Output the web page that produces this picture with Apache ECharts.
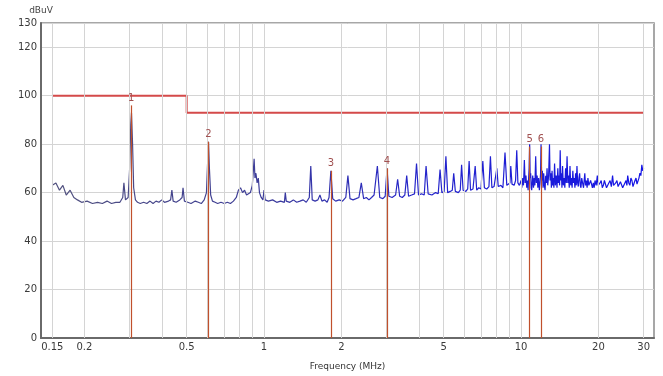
<!DOCTYPE html>
<html>
<head>
<meta charset="utf-8">
<script src="https://cdn.jsdelivr.net/npm/echarts@6/dist/echarts.min.js"></script>
<style>
  html, body { margin: 0; padding: 0; background: #ffffff; }
  #chart { width: 663px; height: 376px; }
</style>
</head>
<body>
<div id="chart"></div>
<script>
// ---- data ----
// x tick labels (MHz)
const xTickLabels = [0.15, 0.2, 0.5, 1, 2, 5, 10, 20, 30];
// vertical grid lines (MHz)
const xGridFreqs = [0.15, 0.2, 0.3, 0.4, 0.5, 0.6, 0.7, 0.8, 0.9, 1, 2, 3, 4, 5, 6, 7, 8, 9, 10, 20, 30];
// y tick values (dBuV)
const yTicks = [0, 20, 40, 60, 80, 100, 120, 130];

// limit line [MHz, dBuV]
const limitLine = [[0.15, 100], [0.5, 100], [0.5, 93], [30, 93]];

// markers
const markerNames = ['1', '2', '3', '4', '5', '6'];
const markerFreqs = [0.304, 0.608, 1.82, 3.01, 10.8, 11.96];
const markerLevels = [96, 81, 69, 70, 79, 79];

// measured trace [MHz, dBuV]
const traceLow = [
  [0.150,63],[0.155,64],[0.160,61],[0.165,63],[0.170,59],[0.176,61],[0.182,58],[0.188,57],[0.195,56],[0.205,56.5],
  [0.215,55.5],[0.225,56],[0.235,55.5],[0.245,56.5],[0.255,55.5],[0.265,56],[0.275,56],[0.282,58],[0.285,64],[0.289,57],
  [0.296,58],[0.300,70],[0.303,88],[0.305,93],[0.308,80],[0.311,62],[0.316,57],[0.322,56],[0.330,55.5],[0.340,56],
  [0.350,55.5],[0.360,56.5],[0.370,55.5],[0.380,56.5],[0.390,56],[0.400,57],[0.410,56],[0.425,56.5],[0.433,57],[0.438,61],
  [0.443,56.5],[0.455,56],[0.470,57],[0.480,58],[0.484,62],[0.490,56.5],[0.505,56],[0.520,55.5],[0.540,56.5],[0.555,56],
  [0.570,55.5],[0.585,57],[0.597,60],[0.603,72],[0.608,81],[0.613,70],[0.620,59],[0.630,56.5],[0.645,56],[0.660,55.5],
  [0.680,56],[0.700,55.5],[0.720,56],[0.740,55.5],[0.760,56.5],[0.780,58],[0.795,61],[0.810,62],[0.825,60],[0.840,61],
  [0.855,59],[0.870,58.5],[0.885,60],[0.900,63],[0.910,70],[0.915,74],[0.922,66],[0.930,68],[0.940,64],[0.950,66],
  [0.960,60],[0.975,58],[0.990,57]
];
const traceMid = [
  [1.000,61],[1.010,57],[1.040,56.5],[1.080,57],[1.120,56],[1.160,56.5],[1.200,56],[1.210,60],[1.220,56.5],[1.260,56],
  [1.300,57],[1.340,56],[1.380,56.5],[1.420,57],[1.460,56],[1.500,58],[1.520,71],[1.540,57],[1.580,56.5],[1.620,57],
  [1.650,59],[1.680,56.5],[1.720,57],[1.760,56],[1.790,58],[1.820,69],[1.850,57.5],[1.900,56.5],[1.960,57],[2.020,56.5],
  [2.080,58],[2.120,67],[2.160,57.5],[2.220,57],[2.280,57.5],[2.340,58],[2.390,64],[2.440,57.5],[2.500,58],[2.560,57],
  [2.620,58],[2.680,59],[2.760,71],[2.820,58],[2.900,57.5],[2.960,58.5],[3.010,70],[3.060,58.5],[3.150,58],[3.250,59],
  [3.310,65.5],[3.370,58.5],[3.450,58],[3.530,59],[3.590,67],[3.650,58.5],[3.750,59],[3.850,59.5],[3.920,72],[3.990,59],
  [4.100,59.5],[4.200,59],[4.270,71],[4.350,59.5],[4.500,59],[4.650,60],[4.760,59.5],[4.840,69.5],[4.920,60],[5.020,60.5],
  [5.100,75],[5.180,60],[5.300,60.5],[5.400,61],[5.470,68],[5.550,60.5],[5.700,60],[5.800,61],[5.870,71.5],[5.950,61],
  [6.100,60.5],[6.200,61.5],[6.280,73],[6.360,61],[6.500,61.5],[6.630,71],[6.720,61],[6.850,62],[6.980,61.5],[7.100,73],
  [7.200,62],[7.350,61.5],[7.500,62.5],[7.600,75],[7.700,62],[7.850,62.5],[7.950,63],[8.050,70],[8.150,62.5],[8.350,63],
  [8.500,62],[8.660,76.5],[8.800,63],[8.950,62.5],[9.050,64],[9.120,71],[9.220,63.5],[9.400,63],[9.520,65],[9.620,77.5],
  [9.720,64],[9.850,63]
];
const traceHigh = [
  [10.00,65],[10.07,62],[10.15,66],[10.22,63],[10.30,73.5],[10.37,64],[10.45,67],[10.52,62],[10.60,65],[10.65,61],
  [10.70,66],[10.75,70],[10.80,80],[10.85,66],[10.90,68],[10.95,62],[11.00,61],[11.05,64],[11.10,67],[11.18,62],
  [11.25,66],[11.32,63],[11.40,75],[11.47,64],[11.55,67],[11.62,62],[11.70,66],[11.78,61],[11.85,64],[11.91,68],
  [11.96,80],[12.03,65],[12.10,69],[12.18,62],[12.25,68],[12.32,63],[12.40,61],[12.47,67],[12.55,64],[12.62,70],
  [12.70,63],[12.80,67],[12.90,80],[12.97,65],[13.05,68],[13.12,62],[13.20,69],[13.27,63],[13.35,66],[13.42,62],
  [13.50,72],[13.60,63],[13.70,67],[13.80,62],[13.90,70],[13.97,64],[14.05,67],[14.12,63],[14.20,77.5],[14.27,65],
  [14.35,68],[14.42,62],[14.50,71],[14.60,63],[14.70,66],[14.80,62],[14.90,70],[15.00,64],[15.10,75],[15.20,64],
  [15.30,67],[15.40,62],[15.50,71],[15.60,63],[15.70,66],[15.80,62],[15.90,69],[16.00,64],[16.10,66],[16.20,62],
  [16.30,68],[16.40,63],[16.50,71],[16.60,64],[16.70,62.5],[16.80,66],[16.90,68],[17.00,63],[17.10,62],[17.22,66],
  [17.35,64],[17.50,62],[17.70,68],[17.82,63],[17.95,65],[18.07,62],[18.20,66],[18.35,63],[18.50,62.5],[18.65,65],
  [18.80,64.5],[18.95,62],[19.10,64],[19.25,62],[19.40,65],[19.60,63],[19.80,67],[19.95,63],[20.10,62.5],[20.30,64],
  [20.50,65],[20.70,62],[20.90,63],[21.10,65],[21.30,64.5],[21.50,62],[21.70,62.5],[21.95,64],[22.20,65],[22.45,62.5],
  [22.70,67],[22.90,63],[23.10,62.5],[23.35,64],[23.60,65],[23.85,62.5],[24.10,62],[24.35,64.5],[24.60,64],[24.85,62],
  [25.10,62.5],[25.35,64],[25.60,65],[25.80,63],[26.00,67],[26.25,64],[26.50,63],[26.75,66],[27.00,65],[27.25,62.5],
  [27.50,63],[27.75,65],[28.00,66],[28.25,63.5],[28.50,64],[28.75,66],[29.00,68],[29.25,67],[29.50,71.5],[29.75,69],
  [30.00,70]
];

// ---- chart ----
const traceData = traceLow.concat(traceMid, traceHigh);
const chart = echarts.init(document.getElementById('chart'), null, { renderer: 'canvas' });
const labelFont = 'DejaVu Sans, Arial, sans-serif';
const markerColor = '#c0502c';

const option = {
  animation: false,
  backgroundColor: '#ffffff',
  grid: {
    left: 41, right: 9, top: 23, bottom: 34,
    show: true, borderColor: '#8a8a8a', borderWidth: 1.5, backgroundColor: '#ffffff'
  },
  xAxis: {
    type: 'log',
    min: 0.1356,
    max: 32.9,
    name: 'Frequency (MHz)',
    nameLocation: 'middle',
    nameGap: 24,
    nameTextStyle: { color: '#333', fontSize: 9, fontFamily: labelFont },
    axisLine: { show: true, onZero: false, lineStyle: { color: '#6a6a6a', width: 2 } },
    axisTick: { show: false },
    splitLine: { show: false },
    minorSplitLine: { show: false },
    axisLabel: {
      customValues: xTickLabels,
      formatter: function (v) { return String(v); },
      color: '#3a3a3a', fontSize: 10, fontFamily: labelFont, margin: 4
    }
  },
  yAxis: {
    type: 'value',
    min: yTicks[0],
    max: yTicks[yTicks.length - 1],
    interval: 20,
    name: 'dBuV',
    nameLocation: 'end',
    nameGap: 8,
    nameTextStyle: { color: '#444', fontSize: 9, fontFamily: labelFont, align: 'center' },
    axisLine: { show: true, lineStyle: { color: '#6a6a6a', width: 2 } },
    axisTick: { show: false },
    splitLine: { show: true, lineStyle: { color: '#d4d4d4', width: 1 } },
    axisLabel: { color: '#3a3a3a', fontSize: 10, fontFamily: labelFont, margin: 4 }
  },
  series: [
    {
      name: 'grid',
      type: 'line',
      data: [],
      silent: true,
      z: 1,
      markLine: {
        silent: true,
        symbol: 'none',
        label: { show: false },
        lineStyle: { color: '#d4d4d4', width: 1, type: 'solid' },
        data: xGridFreqs.map(function (f) { return { xAxis: f }; })
      }
    },
    {
      name: 'Limit',
      type: 'line',
      data: limitLine,
      symbol: 'none',
      z: 4,
      lineStyle: { color: '#d44a4a', width: 2 }
    },
    {
      name: 'Trace',
      type: 'line',
      data: traceData,
      symbol: 'none',
      z: 3,
      lineStyle: {
        width: 1.2,
        color: {
          type: 'linear', x: 0, y: 0, x2: 1, y2: 0,
          colorStops: [
            { offset: 0, color: '#52527e' },
            { offset: 0.35, color: '#3d3d98' },
            { offset: 0.6, color: '#2626c8' },
            { offset: 1, color: '#1414e6' }
          ]
        }
      }
    },
    {
      name: 'Markers',
      type: 'line',
      data: [],
      z: 5,
      color: markerColor,
      markLine: {
        silent: true,
        symbol: 'none',
        lineStyle: { color: markerColor, width: 1.2, type: 'solid' },
        label: {
          show: true, position: 'end', formatter: '{b}', distance: 2,
          color: '#a05050', fontSize: 10, fontFamily: labelFont
        },
        data: markerFreqs.map(function (f, i) {
          return [
            { coord: [f, 0], lineStyle: { color: markerColor, width: 1.2 } },
            { coord: [f, markerLevels[i]], name: markerNames[i] }
          ];
        })
      }
    }
  ]
};
chart.setOption(option);
</script>
</body>
</html>
